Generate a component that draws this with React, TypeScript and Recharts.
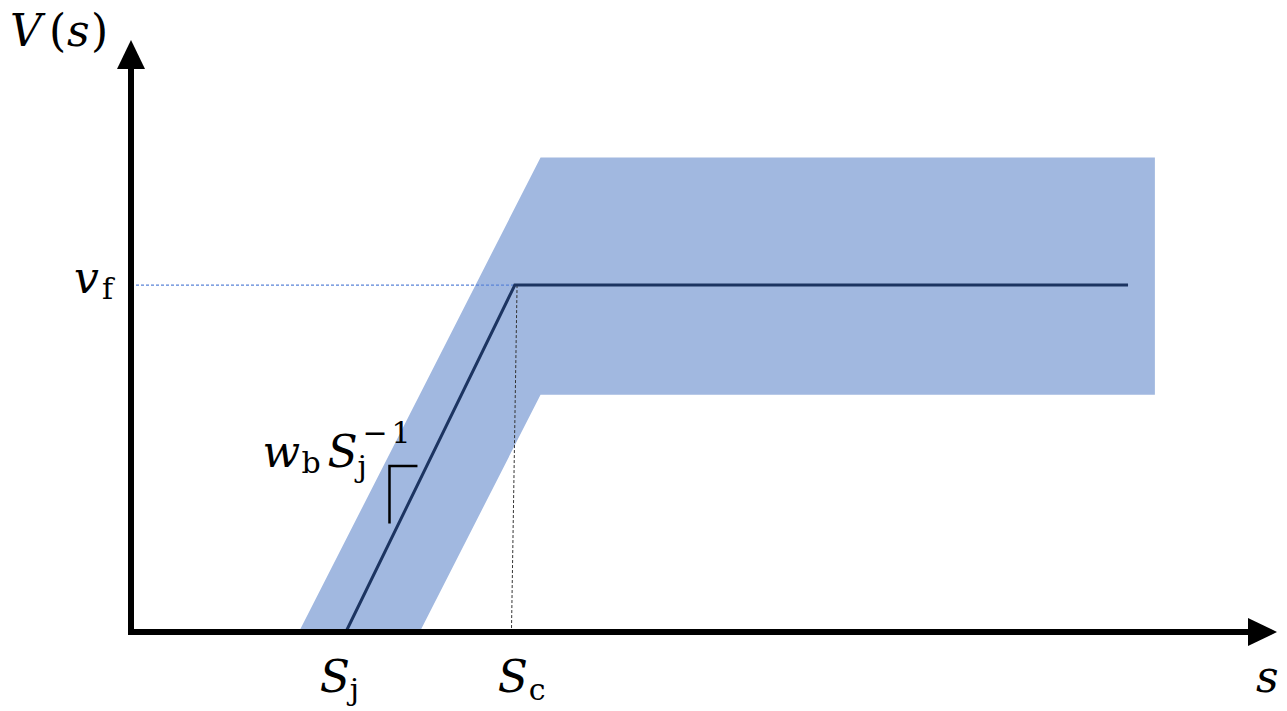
import React from 'react';
import { ComposedChart, Area, Line, XAxis, YAxis, ReferenceDot } from 'recharts';

// schematic units: headway s on [0, 10], speed V on [0, 5]
const S_MAX = 10;
const V_MAX = 5;

const S_J = 1.92;
const S_C = 3.43;
const V_F = 3.07;

// optimal velocity function V(s)
const curveS = [S_J, S_C, 8.91];
const curveV = [0, V_F, V_F];

// shaded band around V(s)
const bandS = [1.5, 2.58, 3.66, 9.15];
const bandLow = [0, 0, 2.1, 2.1];
const bandHigh = [0, 2.1, 4.2, 4.2];

// slope marker next to the rising part
const slopeS = [2.31, 2.31, 2.56];
const slopeV = [0.96, 1.47, 1.47];

// guide lines to the axes
const vfGuideS = [0, S_C];
const scGuideS = [3.45, 3.4];
const scGuideV = [V_F, 0];

const curveData = curveS.map((s, i) => ({ s, v: curveV[i] }));
const bandData = bandS.map((s, i) => ({ s, band: [bandLow[i], bandHigh[i]] }));
const slopeData = slopeS.map((s, i) => ({ s, v: slopeV[i] }));
const vfGuide = vfGuideS.map((s) => ({ s, v: V_F }));
const scGuide = scGuideS.map((s, i) => ({ s, v: scGuideV[i] }));
const xAxisData = [{ s: 0, v: 0 }, { s: S_MAX, v: 0 }];
const yAxisData = [{ s: 0, v: 0 }, { s: 0, v: V_MAX }];

const FONT = 'DejaVu Serif';
const BIG = 44;
const SMALL = 30;

const App = () => {
    return (
        <div style={{ position: 'absolute', left: 0, top: 0 }}>
            <ComposedChart
                width={1287}
                height={711}
                margin={{ top: 67, right: 37, bottom: 79, left: 131 }}
            >
                <XAxis type="number" dataKey="s" domain={[0, S_MAX]} hide />
                <YAxis type="number" domain={[0, V_MAX]} hide />
                <Area
                    data={bandData}
                    dataKey="band"
                    type="linear"
                    stroke="none"
                    fill="#a1b8e0"
                    fillOpacity={1}
                    isAnimationActive={false}
                />
                <Line
                    data={vfGuide}
                    dataKey="v"
                    type="linear"
                    stroke="#5b84d8"
                    strokeWidth={1.2}
                    strokeDasharray="3 2"
                    dot={false}
                    activeDot={false}
                    isAnimationActive={false}
                />
                <Line
                    data={scGuide}
                    dataKey="v"
                    type="linear"
                    stroke="#333"
                    strokeWidth={1}
                    strokeDasharray="3 2"
                    dot={false}
                    activeDot={false}
                    isAnimationActive={false}
                />
                <Line
                    data={curveData}
                    dataKey="v"
                    type="linear"
                    stroke="#1c3461"
                    strokeWidth={3}
                    dot={false}
                    activeDot={false}
                    isAnimationActive={false}
                />
                <Line
                    data={slopeData}
                    dataKey="v"
                    type="linear"
                    stroke="#000"
                    strokeWidth={2.5}
                    dot={false}
                    activeDot={false}
                    isAnimationActive={false}
                />
                {/* axes */}
                <Line
                    data={xAxisData}
                    dataKey="v"
                    type="linear"
                    stroke="#000"
                    strokeWidth={6}
                    strokeLinecap="square"
                    dot={false}
                    activeDot={false}
                    isAnimationActive={false}
                />
                <Line
                    data={yAxisData}
                    dataKey="v"
                    type="linear"
                    stroke="#000"
                    strokeWidth={6}
                    strokeLinecap="square"
                    dot={false}
                    activeDot={false}
                    isAnimationActive={false}
                />
                <ReferenceDot
                    x={S_MAX}
                    y={0}
                    r={0}
                    shape={(p: any) => (
                        <polygon
                            points={`${p.cx - 2},${p.cy - 14} ${p.cx + 27},${p.cy} ${p.cx - 2},${p.cy + 14}`}
                            fill="#000"
                        />
                    )}
                />
                <ReferenceDot
                    x={0}
                    y={V_MAX}
                    r={0}
                    shape={(p: any) => (
                        <polygon
                            points={`${p.cx - 14},${p.cy + 2} ${p.cx},${p.cy - 27} ${p.cx + 14},${p.cy + 2}`}
                            fill="#000"
                        />
                    )}
                />
                {/* labels */}
                <ReferenceDot
                    x={0}
                    y={V_MAX}
                    r={0}
                    shape={(p: any) => (
                        <text fontFamily={FONT} fontSize={BIG} fill="#000" y={p.cy - 21}>
                            <tspan x={p.cx - 121} fontStyle="italic">V</tspan>
                            <tspan x={p.cx - 82}>(</tspan>
                            <tspan x={p.cx - 64} fontStyle="italic">s</tspan>
                            <tspan x={p.cx - 40}>)</tspan>
                        </text>
                    )}
                />
                <ReferenceDot
                    x={S_MAX}
                    y={0}
                    r={0}
                    shape={(p: any) => (
                        <text fontFamily={FONT} fontStyle="italic" fontSize={BIG} fill="#000" x={p.cx + 6} y={p.cy + 60}>
                            s
                        </text>
                    )}
                />
                <ReferenceDot
                    x={0}
                    y={V_F}
                    r={0}
                    shape={(p: any) => (
                        <text fontFamily={FONT} fill="#000">
                            <tspan x={p.cx - 57} y={p.cy + 8} fontSize={BIG} fontStyle="italic">v</tspan>
                            <tspan x={p.cx - 29} y={p.cy + 14} fontSize={SMALL}>f</tspan>
                        </text>
                    )}
                />
                <ReferenceDot
                    x={S_J}
                    y={0}
                    r={0}
                    shape={(p: any) => (
                        <text fontFamily={FONT} fill="#000">
                            <tspan x={p.cx - 26} y={p.cy + 60} fontSize={BIG} fontStyle="italic">S</tspan>
                            <tspan x={p.cx + 4} y={p.cy + 68} fontSize={SMALL}>j</tspan>
                        </text>
                    )}
                />
                <ReferenceDot
                    x={S_C}
                    y={0}
                    r={0}
                    shape={(p: any) => (
                        <text fontFamily={FONT} fill="#000">
                            <tspan x={p.cx - 17} y={p.cy + 60} fontSize={BIG} fontStyle="italic">S</tspan>
                            <tspan x={p.cx + 14} y={p.cy + 68} fontSize={SMALL}>c</tspan>
                        </text>
                    )}
                />
                <ReferenceDot
                    x={slopeS[1]}
                    y={slopeV[1]}
                    r={0}
                    shape={(p: any) => (
                        <text fontFamily={FONT} fill="#000">
                            <tspan x={p.cx - 127} y={p.cy + 1} fontSize={BIG} fontStyle="italic">w</tspan>
                            <tspan x={p.cx - 88} y={p.cy + 7} fontSize={SMALL}>b</tspan>
                            <tspan x={p.cx - 62} y={p.cy + 1} fontSize={BIG} fontStyle="italic">S</tspan>
                            <tspan x={p.cx - 32} y={p.cy + 11} fontSize={SMALL}>j</tspan>
                            <tspan x={p.cx - 27} y={p.cy - 23} fontSize={SMALL}>−</tspan>
                            <tspan x={p.cx + 2} y={p.cy - 23} fontSize={SMALL}>1</tspan>
                        </text>
                    )}
                />
            </ComposedChart>
        </div>
    );
};

export default App;
